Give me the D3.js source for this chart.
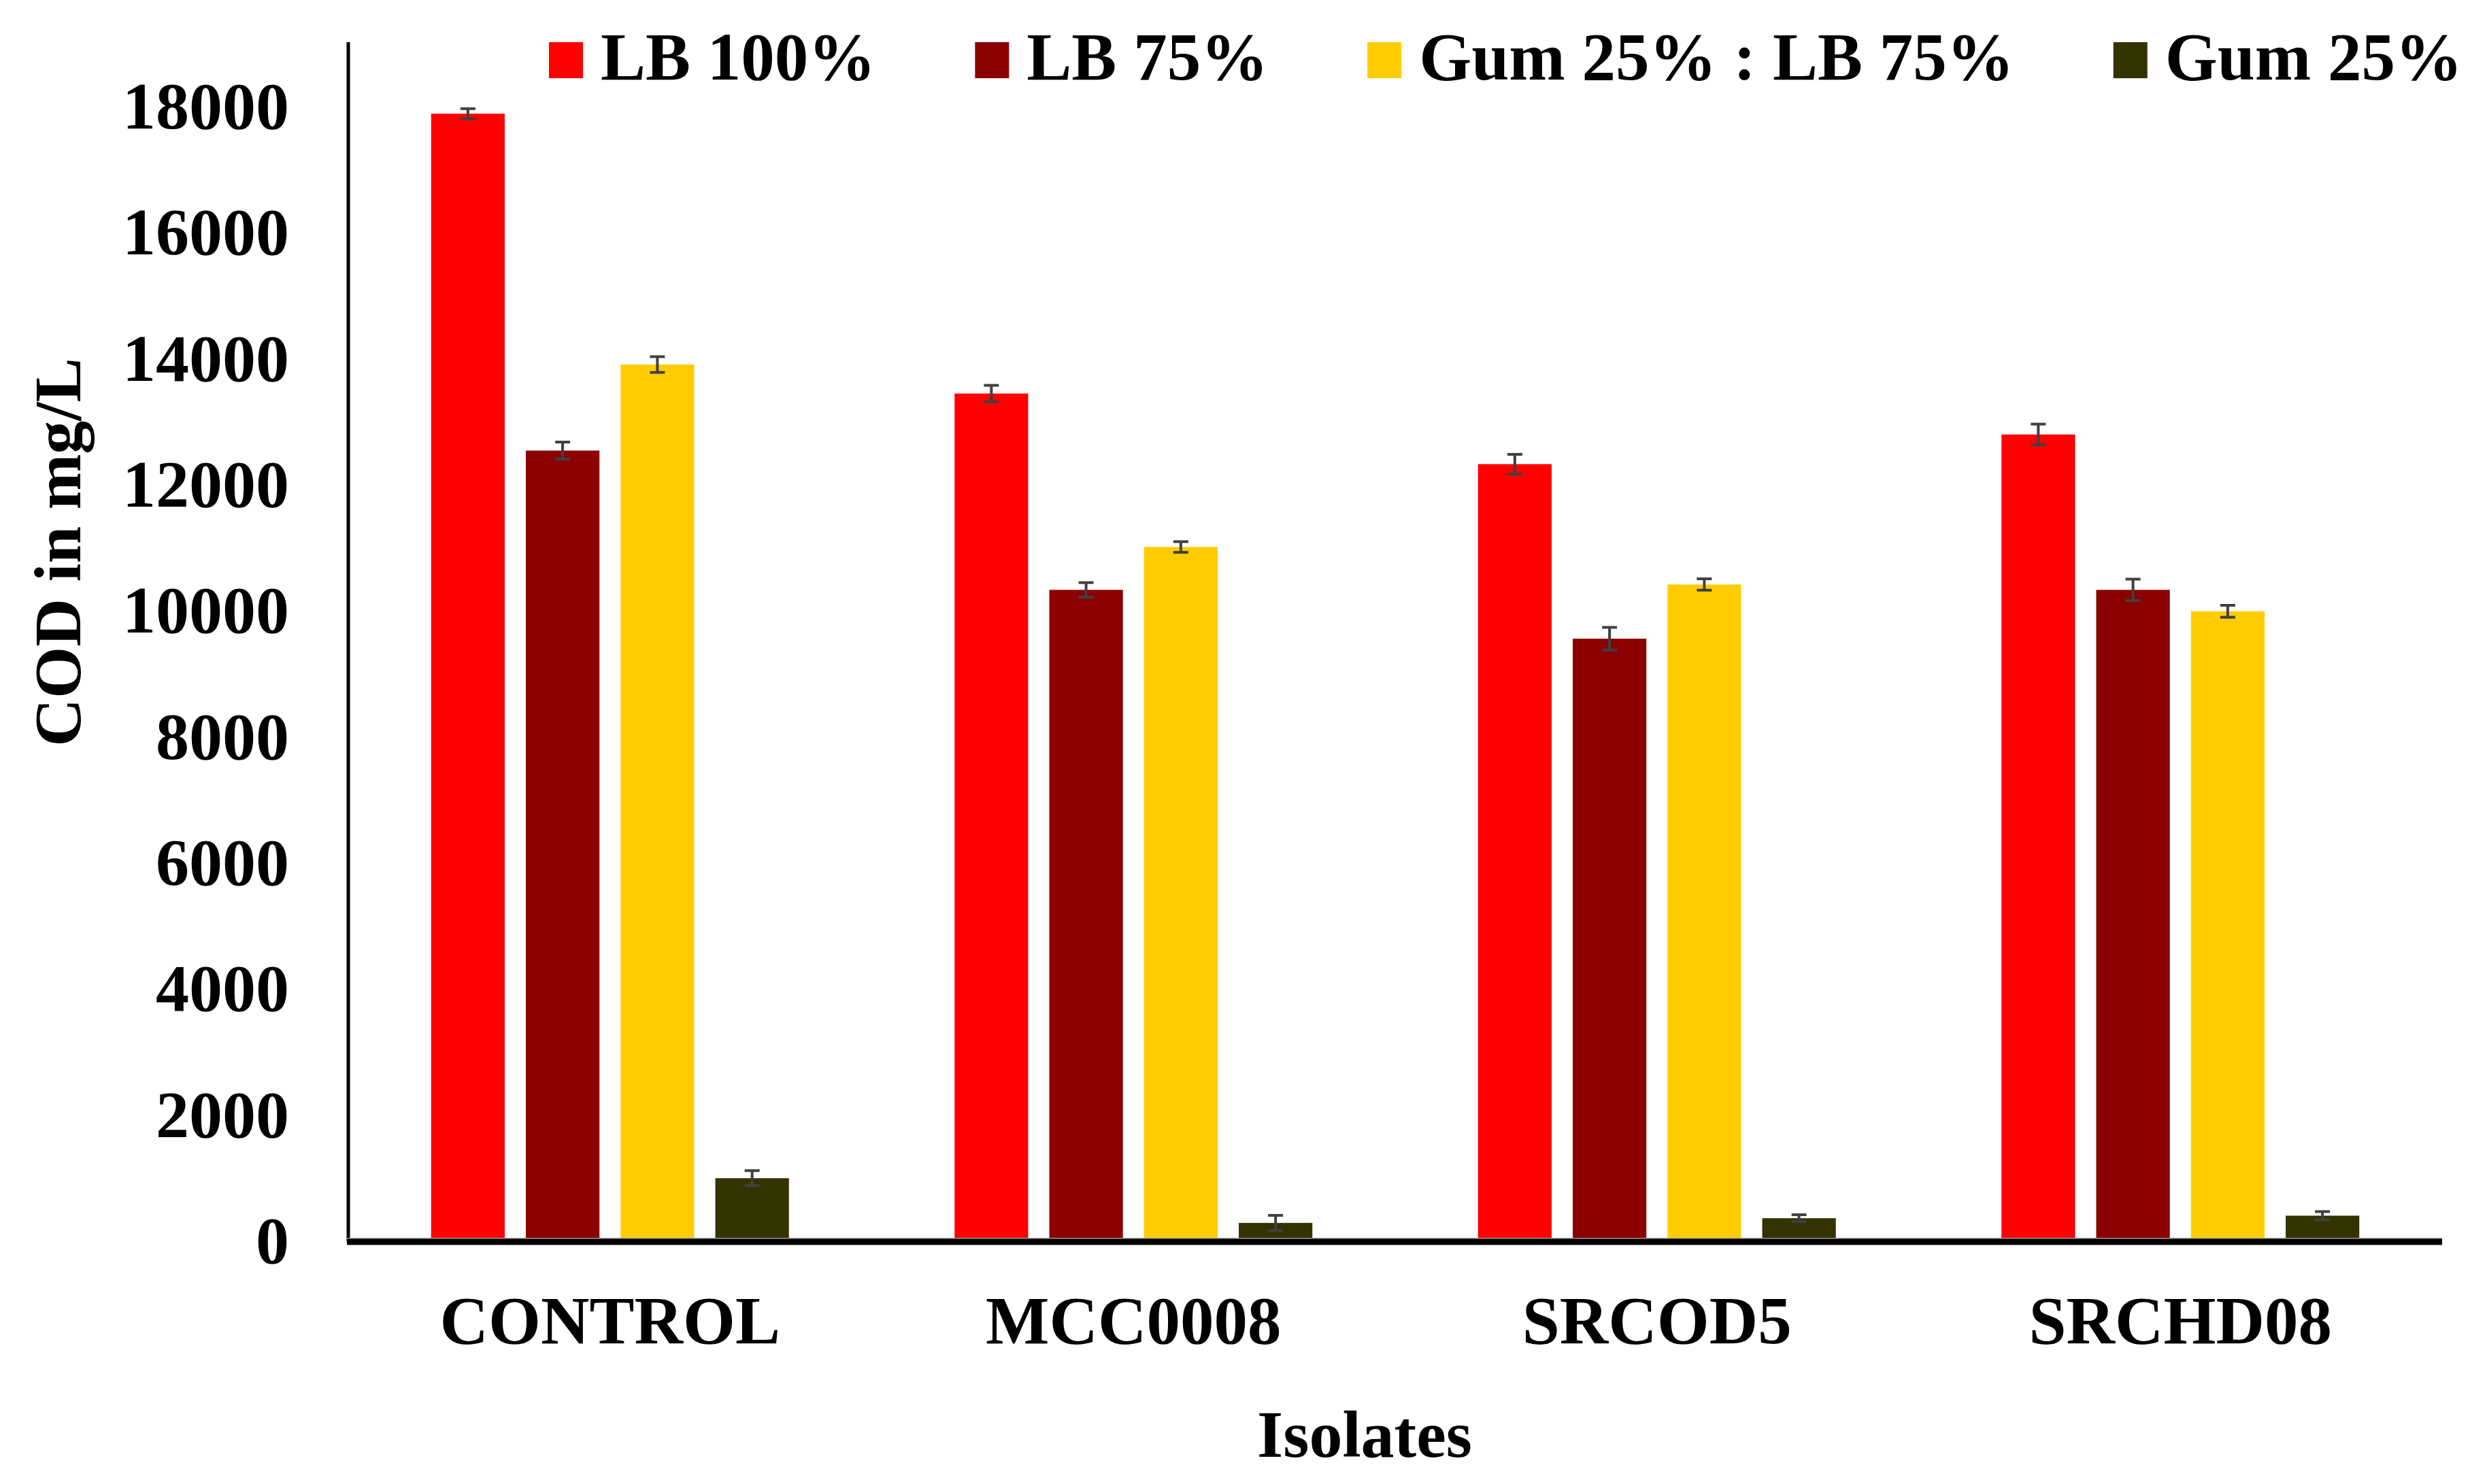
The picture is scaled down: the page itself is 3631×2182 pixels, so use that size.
<!DOCTYPE html>
<html>
<head>
<meta charset="utf-8">
<script src="https://cdn.jsdelivr.net/npm/d3@7/dist/d3.min.js"></script>
<style>
body { margin: 0; background: #ffffff; }
text { font-family: "Liberation Serif", "Times New Roman", serif; font-weight: bold; fill: #000; }
</style>
</head>
<body>
<div id="chart"></div>
<script>
// values (COD in mg/L)
var isolates = ['CONTROL', 'MCC0008', 'SRCOD5', 'SRCHD08'];
var seriesNames = ['LB 100%', 'LB 75%', 'Gum 25% : LB 75%', 'Gum 25%'];
var lb100 = [17890, 13450, 12330, 12800];
var lb75 = [12545, 10335, 9560, 10335];
var gumLb75 = [13910, 11015, 10420, 9995];
var gum25 = [1000, 290, 365, 405];
var lb100Err = [80, 130, 155, 165];
var lb75Err = [135, 115, 180, 170];
var gumLb75Err = [125, 85, 90, 95];
var gum25Err = [120, 120, 55, 65];
var yTickValues = [0, 2000, 4000, 6000, 8000, 10000, 12000, 14000, 16000, 18000];
var seriesColors = ['#ff0000', '#8b0000', '#ffcc00', '#333300'];

// some constants for the page
var width = 3631;
var height = 2182;
var axisLeftX = 512;
var axisRightX = 3590;
var axisBottomY = 1825;
var axisTopY = 62;
var fontSize = 98;
var legendFontSize = 99;

var seriesValues = [lb100, lb75, gumLb75, gum25];
var seriesErrors = [lb100Err, lb75Err, gumLb75Err, gum25Err];

// flatten into one row per bar
var bars = [];
isolates.forEach(function(iso, i) {
    seriesNames.forEach(function(s, j) {
        bars.push({isolate: iso, series: s, value: seriesValues[j][i], err: seriesErrors[j][i], color: seriesColors[j]});
    });
});

var svg = d3.select('div#chart')
    .append('svg')
    .attr('width', width)
    .attr('height', height);

svg.append('rect')
    .attr('width', width)
    .attr('height', height)
    .attr('fill', '#ffffff');

// scales
var x0 = d3.scaleBand()
    .domain(isolates)
    .range([axisLeftX, axisRightX]);

var groupWidth = 526;
var x1 = d3.scaleBand()
    .domain(seriesNames)
    .range([0, groupWidth])
    .paddingInner(0.223)
    .paddingOuter(0);

var y = d3.scaleLinear()
    .domain([0, 18000])
    .range([axisBottomY, 157]);

function barX(d) {
    return x0(d.isolate) + (x0.bandwidth() - groupWidth) / 2 + x1(d.series);
}

// bars
svg.append('g')
    .selectAll('rect')
    .data(bars)
    .enter()
    .append('rect')
    .attr('x', barX)
    .attr('y', d => y(d.value))
    .attr('width', x1.bandwidth())
    .attr('height', d => y(0) - y(d.value))
    .attr('fill', d => d.color);

// error bars
var errG = svg.append('g')
    .attr('stroke', '#404040')
    .attr('stroke-width', 4);

errG.selectAll('line.stem')
    .data(bars)
    .enter()
    .append('line')
    .attr('class', 'stem')
    .attr('x1', d => barX(d) + x1.bandwidth() / 2)
    .attr('x2', d => barX(d) + x1.bandwidth() / 2)
    .attr('y1', d => y(d.value + d.err))
    .attr('y2', d => y(d.value - d.err));

errG.selectAll('line.capTop')
    .data(bars)
    .enter()
    .append('line')
    .attr('class', 'capTop')
    .attr('x1', d => barX(d) + x1.bandwidth() / 2 - 11)
    .attr('x2', d => barX(d) + x1.bandwidth() / 2 + 11)
    .attr('y1', d => y(d.value + d.err))
    .attr('y2', d => y(d.value + d.err));

errG.selectAll('line.capBottom')
    .data(bars)
    .enter()
    .append('line')
    .attr('class', 'capBottom')
    .attr('x1', d => barX(d) + x1.bandwidth() / 2 - 11)
    .attr('x2', d => barX(d) + x1.bandwidth() / 2 + 11)
    .attr('y1', d => y(d.value - d.err))
    .attr('y2', d => y(d.value - d.err));

// y axis labels, no tick marks
var yAxis = svg.append('g')
    .attr('transform', 'translate(' + axisLeftX + ',0)')
    .call(d3.axisLeft(y).tickValues(yTickValues).tickSize(0).tickPadding(87).tickFormat(d3.format('d')));
yAxis.select('.domain').remove();
yAxis.selectAll('text')
    .style('font-family', '"Liberation Serif", "Times New Roman", serif')
    .style('font-weight', 'bold')
    .style('font-size', fontSize + 'px')
    .attr('fill', '#000');

// x axis labels
var xAxis = svg.append('g')
    .attr('transform', 'translate(0,' + axisBottomY + ')')
    .call(d3.axisBottom(x0).tickSize(0).tickPadding(80));
xAxis.select('.domain').remove();
xAxis.selectAll('text')
    .style('font-family', '"Liberation Serif", "Times New Roman", serif')
    .style('font-weight', 'bold')
    .style('font-size', (fontSize + 1) + 'px')
    .attr('fill', '#000');

// axis lines
svg.append('line')
    .attr('x1', axisLeftX)
    .attr('x2', axisLeftX)
    .attr('y1', axisTopY)
    .attr('y2', axisBottomY)
    .attr('stroke', '#000')
    .attr('stroke-width', 5);

svg.append('line')
    .attr('x1', axisLeftX - 2)
    .attr('x2', axisRightX)
    .attr('y1', axisBottomY - 4)
    .attr('y2', axisBottomY - 4)
    .attr('stroke', '#9a9a9a')
    .attr('stroke-width', 2);

svg.append('line')
    .attr('x1', axisLeftX - 2)
    .attr('x2', axisRightX)
    .attr('y1', axisBottomY + 1)
    .attr('y2', axisBottomY + 1)
    .attr('stroke', '#000')
    .attr('stroke-width', 9);

// axis titles
svg.append('text')
    .attr('x', 2006)
    .attr('y', 2142)
    .style('text-anchor', 'middle')
    .style('font-size', fontSize + 'px')
    .text('Isolates');

svg.append('text')
    .attr('transform', 'translate(118,812) rotate(-90)')
    .style('text-anchor', 'middle')
    .style('font-size', fontSize + 'px')
    .text('COD in mg/L');

// legend along the top
var legend = svg.append('g');
var legendX = 807;
seriesNames.forEach(function(name, j) {
    legend.append('rect')
        .attr('x', legendX)
        .attr('y', 62)
        .attr('width', 50)
        .attr('height', 53)
        .attr('fill', seriesColors[j]);
    var t = legend.append('text')
        .attr('x', legendX + 76)
        .attr('y', 117)
        .style('font-size', legendFontSize + 'px')
        .text(name);
    legendX += 76 + t.node().getComputedTextLength() + 146;
});
</script>
</body>
</html>
